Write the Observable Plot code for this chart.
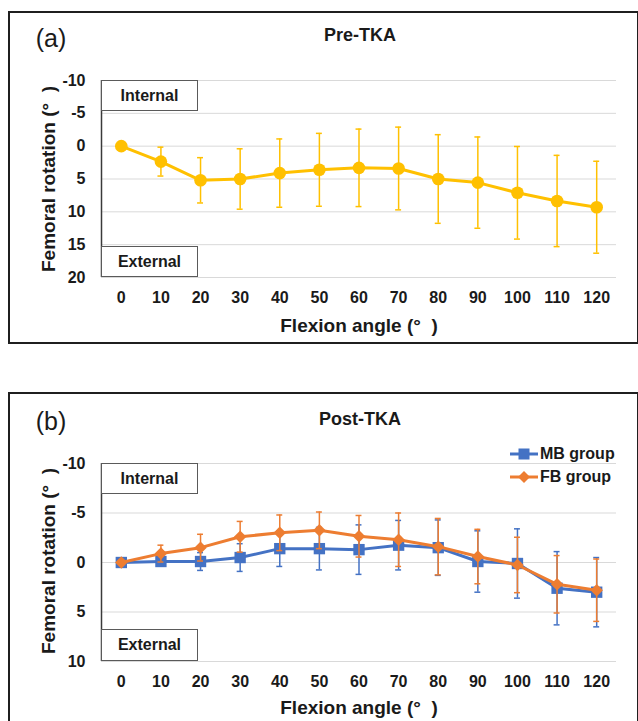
<!DOCTYPE html>
<html><head><meta charset="utf-8">
<script src="https://cdn.jsdelivr.net/npm/d3@7"></script>
<script src="https://cdn.jsdelivr.net/npm/@observablehq/plot@0.6"></script>
<style>
body{margin:0;background:#fff;}
#page{position:relative;width:638px;height:721px;overflow:hidden;font-family:"Liberation Sans",Arial,sans-serif;color:#1a1a1a;}
.ctr{position:absolute;transform:translate(-50%,-50%);white-space:pre;line-height:1;}
.panel{position:absolute;border:2px solid #1f1f1f;box-sizing:border-box;}
.tag{position:absolute;background:#fff;border:1.3px solid #5a5a5a;box-sizing:border-box;font-weight:bold;font-size:16px;display:flex;align-items:center;justify-content:center;z-index:2;}
.plotbox{position:absolute;left:0;z-index:1;}
.leg{position:absolute;z-index:3;font-weight:bold;font-size:16px;white-space:pre;line-height:20px;height:20px;}
</style></head>
<body><div id="page"></div>
<script>
// ---- data ----
const angles = [0, 10, 20, 30, 40, 50, 60, 70, 80, 90, 100, 110, 120];
const yTicksA = [-10, -5, 0, 5, 10, 15, 20];
const yTicksB = [-10, -5, 0, 5, 10];
const preMean = [0, 2.35, 5.2, 5.0, 4.1, 3.6, 3.3, 3.4, 5.0, 5.55, 7.1, 8.35, 9.3];
const preSD   = [0, 2.2, 3.45, 4.6, 5.2, 5.55, 5.9, 6.3, 6.75, 6.95, 7.05, 6.95, 7.0];
const mbMean  = [0, -0.1, -0.1, -0.5, -1.4, -1.4, -1.3, -1.75, -1.5, -0.1, 0.1, 2.6, 3.0];
const mbSD    = [0.3, 0.3, 0.9, 1.4, 1.8, 2.15, 2.5, 2.5, 2.8, 3.1, 3.5, 3.7, 3.5];
const fbMean  = [0, -0.9, -1.5, -2.6, -3.0, -3.25, -2.65, -2.3, -1.6, -0.6, 0.25, 2.2, 2.8];
const fbSD    = [0.2, 0.85, 1.35, 1.55, 1.8, 1.85, 2.1, 2.7, 2.85, 2.75, 2.8, 2.9, 3.15];
const seriesNames = ["MB group", "FB group"];
const panelTitles = ["Pre-TKA", "Post-TKA"];
const panelTags = ["(a)", "(b)"];

const YELLOW = "#FFC000", BLUE = "#4472C4", ORANGE = "#ED7D31";
const page = document.getElementById("page");

function rows(mean, sd){ return angles.map((a,i)=>({angle:a, mean:mean[i], sd:sd[i]})); }
const CAP = 0.75;
function errMarks(data, color){
  const d = data.filter(r=>r.sd>0);
  return [
    Plot.ruleX(d, {x:"angle", y1:r=>r.mean-r.sd, y2:r=>r.mean+r.sd, stroke:color, strokeWidth:1.5}),
    Plot.ruleY(d, {y:r=>r.mean-r.sd, x1:r=>r.angle-CAP, x2:r=>r.angle+CAP, stroke:color, strokeWidth:1.5}),
    Plot.ruleY(d, {y:r=>r.mean+r.sd, x1:r=>r.angle-CAP, x2:r=>r.angle+CAP, stroke:color, strokeWidth:1.5})
  ];
}
function baseMarks(yTicks){
  return [
    Plot.gridY(yTicks, {stroke:"#d9d9d9", strokeOpacity:1, strokeWidth:1}),
    Plot.ruleX([-5], {stroke:"#3a3a3a", strokeWidth:1.5}),
    Plot.axisX(angles, {tickSize:0, tickPadding:14, label:null, fontSize:16}),
    Plot.axisY(yTicks, {tickSize:0, tickPadding:16, label:null, fontSize:16, tickFormat:d=>String(d)})
  ];
}
const style = {background:"transparent", fontFamily:"'Liberation Sans', Arial, sans-serif", fontSize:"16px", fontWeight:"bold", color:"#1a1a1a", overflow:"visible"};

function el(html){ const t=document.createElement("template"); t.innerHTML=html.trim(); const n=t.content.firstChild; page.appendChild(n); return n; }

// panel frames
el(`<div class="panel" style="left:8px;top:11px;width:631px;height:333px"></div>`);
el(`<div class="panel" style="left:8px;top:392px;width:631px;height:340px"></div>`);

// ---- panel (a) ----
const preData = rows(preMean, preSD);
const plotA = Plot.plot({
  width:638, height:237, marginLeft:101, marginRight:22, marginTop:10, marginBottom:30,
  x:{domain:[-5,125]}, y:{domain:[-10,20], reverse:true},
  style,
  marks:[
    ...baseMarks(yTicksA),
    ...errMarks(preData, YELLOW),
    Plot.line(preData, {x:"angle", y:"mean", stroke:YELLOW, strokeWidth:3}),
    Plot.dot(preData, {x:"angle", y:"mean", r:6.3, fill:YELLOW})
  ]
});
plotA.classList.add("plotbox"); plotA.style.top="70px"; plotA.style.position="absolute"; plotA.style.zIndex="1";
page.appendChild(plotA);

// ---- panel (b) ----
const mbData = rows(mbMean, mbSD), fbData = rows(fbMean, fbSD);
const plotB = Plot.plot({
  width:638, height:238, marginLeft:101, marginRight:22, marginTop:10, marginBottom:30,
  x:{domain:[-5,125]}, y:{domain:[-10,10], reverse:true},
  style,
  marks:[
    ...baseMarks(yTicksB),
    ...errMarks(mbData, BLUE),
    Plot.line(mbData, {x:"angle", y:"mean", stroke:BLUE, strokeWidth:3}),
    Plot.dot(mbData, {x:"angle", y:"mean", r:6.4, symbol:"square", fill:BLUE}),
    ...errMarks(fbData, ORANGE),
    Plot.line(fbData, {x:"angle", y:"mean", stroke:ORANGE, strokeWidth:3}),
    Plot.dot(fbData, {x:"angle", y:"mean", r:5.6, symbol:"diamond2", fill:ORANGE})
  ]
});
plotB.classList.add("plotbox"); plotB.style.top="453px"; plotB.style.position="absolute"; plotB.style.zIndex="1";
page.appendChild(plotB);

// ---- texts ----
const deg = "(°  )";
[[0, 38, 35, 178.5, 325], [1, 421, 419, 561, 707]].forEach(([i, tagY, titleY, yMid, xTitleY])=>{
  el(`<div class="ctr" style="left:51px;top:${tagY}px;font-size:25px;z-index:3">${panelTags[i]}</div>`);
  el(`<div class="ctr" style="left:360px;top:${titleY}px;font-size:18px;font-weight:bold;z-index:3">${panelTitles[i]}</div>`);
  el(`<div class="ctr" style="left:48px;top:${yMid}px;font-size:19px;font-weight:bold;transform:translate(-50%,-50%) rotate(-90deg);z-index:3">Femoral rotation ${deg}</div>`);
  el(`<div class="ctr" style="left:359px;top:${xTitleY}px;font-size:19px;font-weight:bold;z-index:3">Flexion angle ${deg}</div>`);
});
// Internal / External tags
el(`<div class="tag" style="left:101px;top:80px;width:97px;height:31px">Internal</div>`);
el(`<div class="tag" style="left:101px;top:246px;width:97px;height:31px">External</div>`);
el(`<div class="tag" style="left:101px;top:463px;width:97px;height:31px">Internal</div>`);
el(`<div class="tag" style="left:101px;top:629px;width:97px;height:32px">External</div>`);

// legend
const legY = [454, 477];
el(`<svg style="position:absolute;left:508px;top:${legY[0]-8}px;z-index:3" width="32" height="16"><line x1="2" y1="8" x2="30" y2="8" stroke="${BLUE}" stroke-width="3"/><rect x="10.5" y="2.5" width="11" height="11" fill="${BLUE}"/></svg>`);
el(`<svg style="position:absolute;left:508px;top:${legY[1]-8}px;z-index:3" width="32" height="16"><line x1="2" y1="8" x2="30" y2="8" stroke="${ORANGE}" stroke-width="3"/><path d="M16,2 L22,8 L16,14 L10,8Z" fill="${ORANGE}"/></svg>`);
el(`<div class="leg" style="left:540px;top:${legY[0]-10}px">${seriesNames[0]}</div>`);
el(`<div class="leg" style="left:540px;top:${legY[1]-10}px">${seriesNames[1]}</div>`);
</script>
</body></html>
